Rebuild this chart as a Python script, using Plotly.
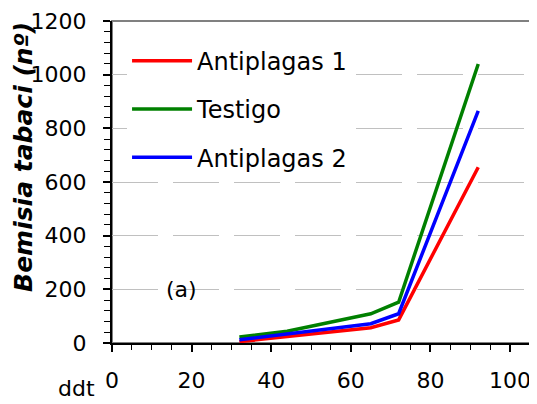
import plotly.graph_objects as go

ddt = [32, 44, 65, 72, 92]
antiplagas1 = [5, 25, 57, 86, 655]
testigo = [22, 44, 109, 152, 1040]
antiplagas2 = [12, 35, 72, 109, 865]

series_names = ["Antiplagas 1", "Testigo", "Antiplagas 2"]
series_values = [antiplagas1, testigo, antiplagas2]
series_colors = ["#ff0000", "#008000", "#0000ff"]

FONT = "DejaVu Sans"

fig = go.Figure()
for i, (name, vals, col) in enumerate(zip(series_names, series_values, series_colors)):
    fig.add_trace(go.Scatter(
        x=ddt, y=vals, mode="lines", name=name,
        line=dict(color=col, width=3.5),
        legendgroup=f"g{i}",
    ))

fig.update_layout(
    width=529, height=396,
    margin=dict(l=104, r=7, t=13, b=61, autoexpand=False),
    paper_bgcolor="white", plot_bgcolor="white",
    font=dict(family=FONT, color="black", size=22),
    showlegend=True,
    legend=dict(
        x=0.036, xanchor="left", y=0.945, yanchor="top",
        bgcolor="white", borderwidth=0,
        font=dict(family=FONT, size=24, color="black"),
        itemwidth=60, tracegroupgap=14, traceorder="grouped",
    ),
    shapes=[dict(type="rect", xref="paper", yref="paper", x0=0, x1=1, y0=0, y1=1,
                 line=dict(color="#808080", width=2), layer="below")],
    annotations=[
        dict(text="<b><i>Bemisia tabaci (nº)</i></b>", xref="paper", yref="paper",
             x=-0.2105, y=0.578, xanchor="center", yanchor="middle",
             textangle=-90, showarrow=False,
             font=dict(family=FONT, size=25, color="black")),
        dict(text="ddt", xref="paper", yref="paper", x=-0.086, y=-0.14,
             xanchor="center", yanchor="middle",
             showarrow=False, font=dict(family=FONT, size=22, color="black")),
        dict(text="(a)", x=17.5, y=200, showarrow=False,
             xanchor="center", yanchor="middle",
             font=dict(family=FONT, size=22, color="black")),
    ],
)

fig.update_xaxes(
    range=[0, 105], tickvals=[0, 20, 40, 60, 80, 100],
    showgrid=False, zeroline=False, automargin=False,
    showline=True, linecolor="black", linewidth=2,
    ticks="outside", ticklen=7, tickwidth=1.5, tickcolor="black",
    ticklabelstandoff=10,
    minor=dict(dtick=5, ticks="outside", ticklen=5, tickwidth=1, tickcolor="black"),
    tickfont=dict(family=FONT, size=22),
)
fig.update_yaxes(
    range=[0, 1200], tickvals=[0, 200, 400, 600, 800, 1000, 1200],
    showgrid=True, gridcolor="#c0c0c0", gridwidth=1, griddash="46px,15px",
    zeroline=False, automargin=False,
    showline=True, linecolor="black", linewidth=2,
    ticks="outside", ticklen=7, tickwidth=1.5, tickcolor="black",
    ticklabelstandoff=12,
    minor=dict(dtick=40, ticks="outside", ticklen=6, tickwidth=1, tickcolor="black", showgrid=False),
    tickfont=dict(family=FONT, size=22),
)

fig.write_html("out.html")
